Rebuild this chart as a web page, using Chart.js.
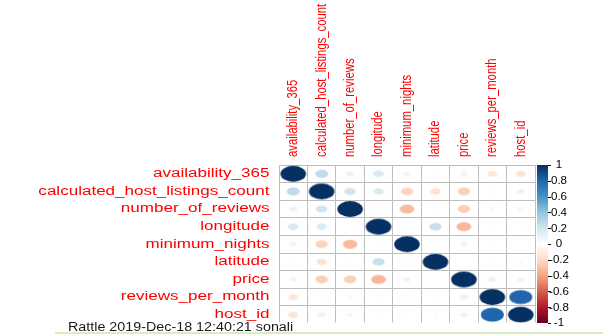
<!DOCTYPE html>
<html>
<head>
<meta charset="utf-8">
<script src="https://cdn.jsdelivr.net/npm/chart.js@4/dist/chart.umd.min.js"></script>
<style>
  html, body { margin: 0; padding: 0; background: #ffffff; overflow: hidden; }
  #wrap { position: relative; width: 603px; height: 335px; }
</style>
</head>
<body>
<div id="wrap"><canvas id="corr" width="603" height="335"></canvas></div>
<script>
// Variables, in display order (rows top to bottom, columns left to right)
const variables = [
  'availability_365', 'calculated_host_listings_count', 'number_of_reviews',
  'longitude', 'minimum_nights', 'latitude', 'price', 'reviews_per_month', 'host_id'
];

// Correlation matrix, one row per variable
const corrAvailability365            = [ 1.00,  0.26,  0.09,  0.17, -0.08,  0.03, -0.08, -0.14, -0.15];
const corrCalculatedHostListingsCount = [ 0.26,  1.00,  0.20,  0.16, -0.23, -0.16, -0.24, -0.01, -0.10];
const corrNumberOfReviews            = [ 0.09,  0.20,  1.00,  0.00, -0.32, -0.01, -0.24, -0.05, -0.06];
const corrLongitude                  = [ 0.17,  0.16,  0.00,  1.00,  0.01,  0.23, -0.33, -0.02,  0.01];
const corrMinimumNights              = [-0.08, -0.23, -0.32,  0.01,  1.00,  0.03,  0.08, -0.02,  0.01];
const corrLatitude                   = [ 0.03, -0.16, -0.01,  0.23,  0.03,  1.00,  0.00,  0.01,  0.04];
const corrPrice                      = [-0.08, -0.24, -0.24, -0.33,  0.08,  0.00,  1.00,  0.10,  0.08];
const corrReviewsPerMonth            = [-0.14, -0.01, -0.05, -0.02, -0.02,  0.01,  0.10,  1.00,  0.80];
const corrHostId                     = [-0.15, -0.10, -0.06,  0.01,  0.01,  0.04,  0.08,  0.80,  1.00];

// Colour legend tick labels
const colorbarTicks = [1, 0.8, 0.6, 0.4, 0.2, 0, -0.2, -0.4, -0.6, -0.8, -1];

const footerText = 'Rattle 2019-Dec-18 12:40:21 sonali';

const corrRows = [
  corrAvailability365, corrCalculatedHostListingsCount, corrNumberOfReviews,
  corrLongitude, corrMinimumNights, corrLatitude, corrPrice,
  corrReviewsPerMonth, corrHostId
];

// Diverging red-white-blue palette from -1 to 1
const palette = ['#67001F', '#B2182B', '#D6604D', '#F4A582', '#FDDBC7', '#FFFFFF',
                 '#D1E5F0', '#92C5DE', '#4393C3', '#2166AC', '#053061'];

function hexToRgb(h) {
  return [parseInt(h.slice(1, 3), 16), parseInt(h.slice(3, 5), 16), parseInt(h.slice(5, 7), 16)];
}
function corrColor(v) {
  const t = (v + 1) / 2 * (palette.length - 1);
  const i = Math.max(0, Math.min(Math.floor(t), palette.length - 2));
  const f = t - i;
  const a = hexToRgb(palette[i]), b = hexToRgb(palette[i + 1]);
  const c = a.map((ch, k) => Math.round(ch + (b[k] - ch) * f));
  return `rgb(${c[0]},${c[1]},${c[2]})`;
}

// One point per matrix cell
const cells = [];
corrRows.forEach((row, i) => {
  row.forEach((v, j) => cells.push({ x: j + 0.5, y: i + 0.5, v: v }));
});

// Each cell's mark is a filled ellipse whose radii scale with sqrt(|r|) of the cell size
const styleCache = new Map();
function ellipseStyle(ctx) {
  const chart = ctx.chart;
  const xs = chart.scales && chart.scales.x;
  const ys = chart.scales && chart.scales.y;
  const v = ctx.raw ? ctx.raw.v : 0;
  if (!xs || !ys) return 'circle';
  const cw = Math.abs(xs.getPixelForValue(1) - xs.getPixelForValue(0));
  const ch = Math.abs(ys.getPixelForValue(1) - ys.getPixelForValue(0));
  if (!isFinite(cw) || !isFinite(ch) || cw <= 0 || ch <= 0) return 'circle';
  const s = 0.45 * Math.sqrt(Math.abs(v));
  const rx = s * cw, ry = s * ch;
  const key = v + '|' + cw.toFixed(3) + '|' + ch.toFixed(3);
  if (styleCache.has(key)) return styleCache.get(key);
  const cv = document.createElement('canvas');
  cv.width = Math.ceil(rx * 2) + 4;
  cv.height = Math.ceil(ry * 2) + 4;
  const g = cv.getContext('2d');
  if (rx > 0.2 && ry > 0.2) {
    g.fillStyle = corrColor(v);
    g.beginPath();
    g.ellipse(cv.width / 2, cv.height / 2, rx, ry, 0, 0, Math.PI * 2);
    g.fill();
  }
  styleCache.set(key, cv);
  return cv;
}

const FONT = '"Liberation Sans", Arial, Helvetica, sans-serif';

// Variable names, colour legend and footer
const decorations = {
  id: 'corrDecorations',
  afterDraw(chart) {
    const { ctx, chartArea: a, scales: { x, y } } = chart;
    ctx.save();

    // footer band
    ctx.fillStyle = '#ffffff';
    ctx.fillRect(0, 322.5, a.right + 2, 335 - 322.5);

    // row names
    ctx.fillStyle = '#ff0000';
    ctx.font = '12px ' + FONT;
    ctx.textAlign = 'right';
    ctx.textBaseline = 'middle';
    variables.forEach((name, i) => {
      const py = y.getPixelForValue(i + 0.5);
      ctx.save();
      ctx.translate(a.left - 9.5, py);
      ctx.scale(1.42, 1);
      ctx.fillText(name, 0, 0);
      ctx.restore();
    });

    // column names, rotated
    ctx.font = '11.3px ' + FONT;
    ctx.textAlign = 'left';
    variables.forEach((name, j) => {
      const px = x.getPixelForValue(j + 0.5);
      ctx.save();
      ctx.translate(px, a.top - 8);
      ctx.scale(1.25, 1);
      ctx.rotate(-Math.PI / 2);
      ctx.fillText(name, 0, 0);
      ctx.restore();
    });

    // colour legend
    const barL = a.right + 2, barR = a.right + 13;
    const barT = a.top, barB = a.bottom - 0.5;
    const grad = ctx.createLinearGradient(0, barT, 0, barB);
    palette.slice().reverse().forEach((c, k) => grad.addColorStop(k / (palette.length - 1), c));
    ctx.fillStyle = grad;
    ctx.fillRect(barL, barT, barR - barL, barB - barT);

    ctx.strokeStyle = '#000000';
    ctx.lineWidth = 1;
    ctx.fillStyle = '#000000';
    ctx.font = '10.5px ' + FONT;
    ctx.textAlign = 'center';
    ctx.textBaseline = 'middle';
    colorbarTicks.forEach(v => {
      const py = barT + (1 - v) / 2 * (barB - barT);
      ctx.beginPath();
      ctx.moveTo(barR, Math.round(py) + 0.5);
      ctx.lineTo(barR + 3, Math.round(py) + 0.5);
      ctx.stroke();
      ctx.save();
      ctx.translate(barR + 11, py + 0.5);
      ctx.scale(1.1, 1);
      ctx.fillText(v < 0 ? '-' + Math.abs(v) : String(v), 0, 0);
      ctx.restore();
    });

    // footer
    ctx.fillStyle = '#1a1a1a';
    ctx.font = '12.5px ' + FONT;
    ctx.textAlign = 'left';
    ctx.textBaseline = 'alphabetic';
    ctx.save();
    ctx.translate(68, 330.5);
    ctx.scale(1.145, 1);
    ctx.fillText(footerText, 0, 0);
    ctx.restore();

    ctx.strokeStyle = '#cfe6a8';
    ctx.lineWidth = 1.5;
    ctx.beginPath();
    ctx.moveTo(55, 333);
    ctx.lineTo(603, 333);
    ctx.stroke();

    ctx.restore();
  }
};

new Chart(document.getElementById('corr'), {
  type: 'scatter',
  data: {
    datasets: [{
      data: cells,
      pointStyle: ellipseStyle,
      pointRadius: 1,
      pointHoverRadius: 1,
      backgroundColor: 'rgba(0,0,0,0)',
      borderColor: 'rgba(0,0,0,0)'
    }]
  },
  options: {
    responsive: false,
    animation: false,
    events: [],
    layout: { padding: { left: 279, right: 68, top: 165, bottom: 11.5 } },
    plugins: { legend: { display: false }, tooltip: { enabled: false } },
    scales: {
      x: {
        type: 'linear', min: 0, max: 9,
        ticks: { display: false, stepSize: 1 },
        grid: { color: '#bebebe', lineWidth: 1, drawTicks: false },
        border: { display: true, color: '#bebebe' }
      },
      y: {
        type: 'linear', min: 0, max: 9, reverse: true,
        ticks: { display: false, stepSize: 1 },
        grid: { color: '#bebebe', lineWidth: 1, drawTicks: false },
        border: { display: true, color: '#bebebe' }
      }
    }
  },
  plugins: [decorations]
});
</script>
</body>
</html>
